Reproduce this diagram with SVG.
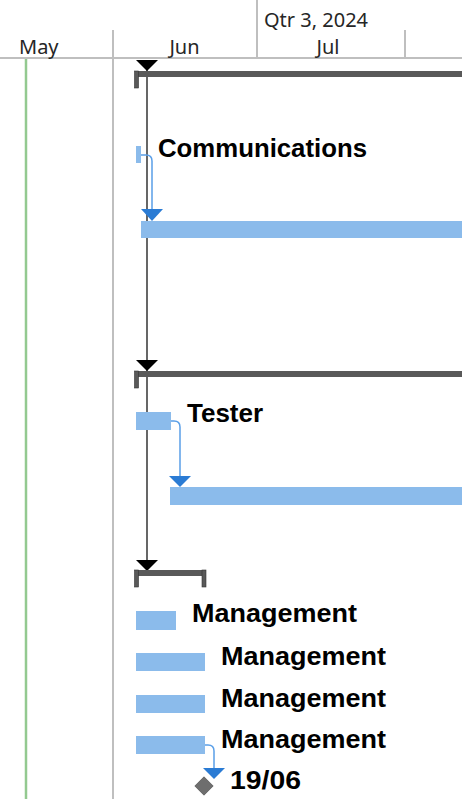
<svg xmlns="http://www.w3.org/2000/svg" width="462" height="799" viewBox="0 0 462 799">
<defs>
<style>
.hdr{font-family:"Segoe UI","Noto Sans","Liberation Sans",sans-serif;font-size:20px;fill:#262626}
.lbl{font-family:"Liberation Sans",Arial,sans-serif;font-weight:bold;font-size:26px;fill:#000}
.grid{stroke:#bfbfbf;stroke-width:2;fill:none}
.task{fill:#8bbbeb}
.sum{fill:#595959}
.cap{fill:#595959;stroke:#333;stroke-width:0.6}
.link{stroke:#5a9fe8;stroke-width:1.5;fill:none}
.arr{fill:#2a7bd4}
.drv{fill:#000}
</style>
</defs>
<rect width="462" height="799" fill="#fff"/>
<g id="timescale">
<line class="grid" x1="257" y1="0" x2="257" y2="58"/>
<line class="grid" x1="405" y1="30" x2="405" y2="58"/>
<line class="grid" x1="113" y1="30" x2="113" y2="799"/>
<line class="grid" x1="0" y1="58" x2="462" y2="58"/>
<line x1="26" y1="59" x2="26" y2="799" stroke="#93c990" stroke-width="2.5"/>
<text class="hdr" x="264" y="27">Qtr 3, 2024</text>
<text class="hdr" x="19" y="54">May</text>
<text class="hdr" x="184.5" y="54" text-anchor="middle">Jun</text>
<text class="hdr" x="328" y="54" text-anchor="middle">Jul</text>
</g>
<g id="driver">
<line x1="147" y1="60" x2="147" y2="565" stroke="#000" stroke-width="1.2"/>
<polygon class="drv" points="136,60 158,60 147,71"/>
<polygon class="drv" points="136,360 158,360 147,371"/>
<polygon class="drv" points="136,560 158,560 147,571"/>
</g>
<g id="summary1">
<rect class="sum" x="137" y="71" width="325" height="6"/>
<rect class="cap" x="134.5" y="71" width="4" height="17"/>
</g>
<g id="task-communications">
<rect class="task" x="136" y="146" width="5" height="17"/>
<text class="lbl" x="158" y="157" textLength="209" lengthAdjust="spacingAndGlyphs">Communications</text>
</g>
<g id="task-comm-bar">
<rect class="task" x="141" y="221" width="321" height="17"/>
</g>
<g id="summary2">
<rect class="sum" x="137" y="371" width="325" height="6"/>
<rect class="cap" x="134.5" y="371" width="4" height="17"/>
</g>
<g id="task-tester">
<rect class="task" x="136" y="412" width="35" height="18"/>
<text class="lbl" x="187" y="422">Tester</text>
</g>
<g id="task-tester-bar">
<rect class="task" x="170" y="487" width="292" height="18"/>
</g>
<g id="summary3">
<rect class="sum" x="137" y="570" width="67" height="6"/>
<rect class="cap" x="134.5" y="570" width="4" height="17"/>
<rect class="cap" x="202" y="570" width="4" height="17"/>
</g>
<g id="task-management-1">
<rect class="task" x="136" y="611" width="40" height="19"/>
<text class="lbl" x="192" y="622" textLength="165" lengthAdjust="spacingAndGlyphs">Management</text>
</g>
<g id="task-management-2">
<rect class="task" x="136" y="653" width="69" height="18"/>
<text class="lbl" x="221" y="665" textLength="165" lengthAdjust="spacingAndGlyphs">Management</text>
</g>
<g id="task-management-3">
<rect class="task" x="136" y="695" width="69" height="18"/>
<text class="lbl" x="221" y="707" textLength="165" lengthAdjust="spacingAndGlyphs">Management</text>
</g>
<g id="task-management-4">
<rect class="task" x="136" y="736" width="69" height="18"/>
<text class="lbl" x="221" y="748" textLength="165" lengthAdjust="spacingAndGlyphs">Management</text>
</g>
<g id="milestone">
<rect x="197.5" y="779.5" width="13" height="13" transform="rotate(45 204 786)" fill="#6e6e6e" stroke="#444" stroke-width="0.6"/>
<text class="lbl" x="230" y="789" textLength="71" lengthAdjust="spacingAndGlyphs">19/06</text>
</g>
<g id="connectors">
<path class="link" d="M141,155 H146 Q152,155 152,161 V209"/>
<polygon class="arr" points="141,209 163,209 152,221"/>
<path class="link" d="M171,421 H174 Q180,421 180,427 V476"/>
<polygon class="arr" points="169,476 191,476 180,487"/>
<path class="link" d="M205,745 H208 Q214,745 214,751 V768"/>
<polygon class="arr" points="203,768 225,768 214,779"/>
</g>
</svg>
